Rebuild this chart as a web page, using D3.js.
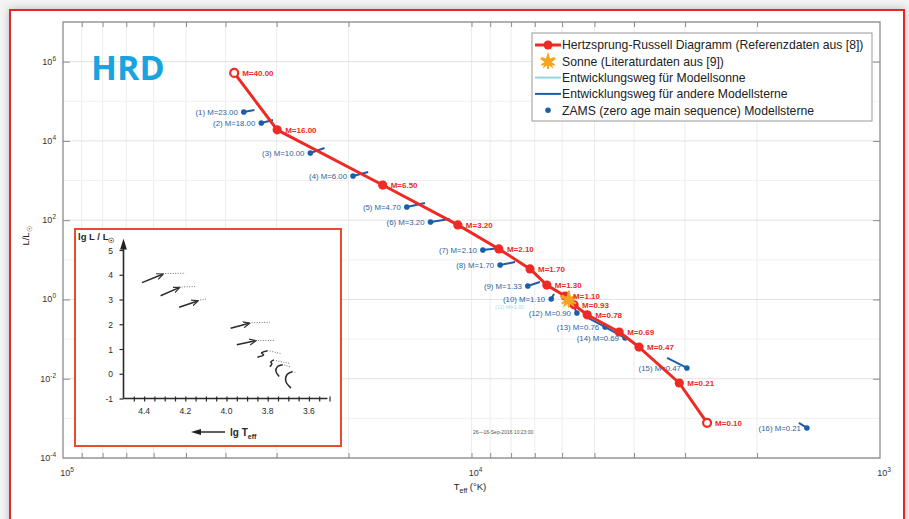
<!DOCTYPE html>
<html>
<head>
<meta charset="utf-8">
<style>
  body { margin: 0; background: #f4f4f4; }
  svg { display: block; font-family: "Liberation Sans", Arial, sans-serif; }
</style>
</head>
<body>
<svg id="hrd" width="909" height="519"></svg>
<script src="https://cdn.jsdelivr.net/npm/d3@7"></script>
<script>
// Referenzdaten (rote Linie)
const refMass = ["40.00","16.00","6.50","3.20","2.10","1.70","1.30","1.10","0.93","0.78","0.69","0.47","0.21","0.10"];
const refTeff = [38100, 29900, 16500, 10800, 8570, 7190, 6540, 5900, 5610, 5210, 4350, 3890, 3100, 2650];
const refLum  = [5.2e5, 1.9e4, 770, 76, 18.8, 5.9, 2.3, 1.22, 0.73, 0.41, 0.151, 0.063, 0.0078, 7.7e-4];

// Modellsterne (ZAMS-Punkt und Ende des Entwicklungswegs)
const modelNo   = [1,2,3,4,5,6,7,8,9,10,11,12,13,14,15,16];
const modelMass = ["23.00","18.00","10.00","6.00","4.70","3.20","2.10","1.70","1.33","1.10","1.00","0.90","0.76","0.69","0.47","0.21"];
const zamsTeff  = [36100, 32700, 24800, 19500, 14400, 12600, 9380, 8510, 7280, 6380, 5600, 5520, 4710, 4210, 2970, 1510];
const zamsLum   = [53700, 28300, 4950, 1300, 215, 90, 17.7, 7.4, 2.19, 1.03, 0.70, 0.456, 0.202, 0.107, 0.0187, 5.73e-4];
const endTeff   = [34000, 30600, 22900, 17900, 13000, 11300, 8510, 7820, 6800, 6280, 5778, 5590, 5190, 4660, 3320, 1580];
const endLum    = [60300, 33700, 6620, 1640, 272, 107, 19.9, 8.8, 2.76, 1.37, 1.0, 0.61, 0.341, 0.19, 0.0334, 7.66e-4];
const modelSunNo = 11;

// Sonne
const sunTeff = 5778, sunLum = 1;

// Achsen
const xMajor = [1e5, 1e4, 1e3];
const xMinor = [2e3,3e3,4e3,5e3,6e3,7e3,8e3,9e3,2e4,3e4,4e4,5e4,6e4,7e4,8e4,9e4];
const yDecades = [-4,-3,-2,-1,0,1,2,3,4,5,6,7];
const yLabelExp = [-4,-2,0,2,4,6];

// Inset (eingescannte Abbildung): lg T, lg L
const insetXTicks = [4.4, 4.2, 4.0, 3.8, 3.6];
const insetYTicks = [-1, 0, 1, 2, 3, 4, 5];
const insetSolid = [
  [[4.41,3.68],[4.31,4.02]],
  [[4.32,3.15],[4.23,3.48]],
  [[4.23,2.69],[4.14,2.94]],
  [[3.98,1.84],[3.89,2.04]],
  [[3.95,1.17],[3.86,1.33]],
  [[3.85,0.67],[3.82,0.76],[3.83,0.84],[3.80,0.93]],
  [[3.79,0.28],[3.78,0.40],[3.785,0.48],[3.77,0.56]],
  [[3.744,-0.11],[3.76,0.09],[3.752,0.29],[3.727,0.36]],
  [[3.687,-0.58],[3.712,-0.31],[3.707,-0.04],[3.679,0.09]]
];
const insetDotted = [
  [[4.31,4.05],[4.20,4.06]],
  [[4.23,3.50],[4.15,3.53]],
  [[4.14,2.96],[4.10,3.02]],
  [[3.89,2.06],[3.79,2.08]],
  [[3.86,1.35],[3.77,1.34]],
  [[3.79,0.92],[3.736,0.81]],
  [[3.76,0.53],[3.69,0.41]],
  [[3.72,0.36],[3.69,0.28]],
  [[3.67,0.08],[3.665,0.02]]
];

const legendItems = [
  "Hertzsprung-Russell Diagramm (Referenzdaten aus [8])",
  "Sonne (Literaturdaten aus [9])",
  "Entwicklungsweg für Modellsonne",
  "Entwicklungsweg für andere Modellsterne",
  "ZAMS (zero age main sequence) Modellsterne"
];

const RED = "#ee2a24", BLUE = "#1d5ea8", CYAN = "#8fd6e6", ORANGE = "#f7a51f";

const svg = d3.select("#hrd");

// Rahmen mit Schatten
const defs = svg.append("defs");
const f = defs.append("filter").attr("id", "sh").attr("x", -0.05).attr("y", -0.05).attr("width", 1.1).attr("height", 1.1);
f.append("feDropShadow").attr("dx", 0).attr("dy", 0).attr("stdDeviation", 4).attr("flood-color", "#000").attr("flood-opacity", 0.25);
defs.append("marker").attr("id", "arr").attr("viewBox", "0 0 10 10").attr("refX", 8).attr("refY", 5)
  .attr("markerWidth", 5).attr("markerHeight", 5).attr("orient", "auto")
  .append("path").attr("d", "M0,1 L9,5 L0,9").attr("fill", "none").attr("stroke", "#333").attr("stroke-width", 1.6);
defs.append("marker").attr("id", "arr2").attr("viewBox", "0 0 10 10").attr("refX", 5).attr("refY", 5)
  .attr("markerWidth", 7).attr("markerHeight", 7).attr("orient", "auto")
  .append("path").attr("d", "M0,2 L10,5 L0,8 Z").attr("fill", "#222");

svg.append("rect").attr("x", 10).attr("y", 10).attr("width", 894).attr("height", 530)
  .attr("fill", "#fff").attr("stroke", "#e3262b").attr("stroke-width", 2).attr("filter", "url(#sh)");

const x = d3.scaleLog().domain([1e5, 1e3]).range([63, 880]);
const y = d3.scaleLog().domain([1e-4, 1e7]).range([458, 22]);

// Gitter
const grid = svg.append("g");
grid.selectAll(".gx").data(xMinor.concat([1e4])).enter().append("line")
  .attr("x1", d => x(d)).attr("x2", d => x(d)).attr("y1", 22).attr("y2", 458)
  .attr("stroke", "#ececec").attr("stroke-width", 1);
grid.selectAll(".gy").data(yDecades).enter().append("line")
  .attr("x1", 63).attr("x2", 880).attr("y1", d => y(Math.pow(10, d))).attr("y2", d => y(Math.pow(10, d)))
  .attr("stroke", d => d % 2 === 0 ? "#e2e2e2" : "#f0f0f0").attr("stroke-width", 1);

// Achsenkasten und Ticks
svg.append("rect").attr("x", 63).attr("y", 22).attr("width", 817).attr("height", 436)
  .attr("fill", "none").attr("stroke", "#8c8c8c").attr("stroke-width", 1.3);

const tickVals = xMinor.concat([1e4]);
function styleAxis(g) {
  g.select(".domain").remove();
  g.selectAll("line").attr("stroke", "#8c8c8c");
}
svg.append("g").attr("transform", "translate(0,458)")
  .call(d3.axisBottom(x).tickValues(tickVals).tickSize(-5).tickFormat("")).call(styleAxis);
svg.append("g").attr("transform", "translate(0,22)")
  .call(d3.axisTop(x).tickValues(tickVals).tickSize(-5).tickFormat("")).call(styleAxis);
const yTickVals = yLabelExp.map(e => Math.pow(10, e)).filter(v => v > 1e-4);
svg.append("g").attr("transform", "translate(63,0)")
  .call(d3.axisLeft(y).tickValues(yTickVals).tickSize(-7).tickFormat("")).call(styleAxis);
svg.append("g").attr("transform", "translate(880,0)")
  .call(d3.axisRight(y).tickValues(yTickVals).tickSize(-7).tickFormat("")).call(styleAxis);

// Tick-Beschriftungen mit Exponent
function pow10(sel, e) {
  sel.append("tspan").text("10");
  sel.append("tspan").attr("dy", -4).attr("font-size", 6.5).text(e);
}
yLabelExp.forEach(e => {
  svg.append("text").attr("x", 56).attr("y", y(Math.pow(10, e)) + 3).attr("text-anchor", "end")
    .attr("font-size", 9).attr("fill", "#333").call(pow10, e);
});
xMajor.forEach(v => {
  svg.append("text").attr("x", x(v) + 4).attr("y", 476).attr("text-anchor", "middle")
    .attr("font-size", 9).attr("fill", "#333").call(pow10, Math.round(Math.log10(v)));
});

// Achsentitel
const xl = svg.append("text").attr("x", 470).attr("y", 490).attr("text-anchor", "middle")
  .attr("font-size", 9.5).attr("fill", "#222");
xl.append("tspan").text("T");
xl.append("tspan").attr("dy", 3).attr("font-size", 7).text("eff");
xl.append("tspan").attr("dy", -3).text(" (°K)");
const yl = svg.append("text").attr("transform", "translate(29,236) rotate(-90)").attr("text-anchor", "middle")
  .attr("font-size", 9.5).attr("fill", "#222");
yl.append("tspan").text("L/L");
yl.append("tspan").attr("dy", 3).attr("font-size", 7).text("☉");

// HRD Titel
svg.append("text").attr("x", 91).attr("y", 80).attr("font-family", "Open Sans, Lato, sans-serif")
  .attr("font-weight", "bold").attr("font-size", 34).attr("fill", "#1ba3df").text("HRD");

// Modellsterne
const models = modelNo.map((n, i) => ({
  n: n, m: modelMass[i],
  z: { T: zamsTeff[i], L: zamsLum[i] },
  e: { T: endTeff[i], L: endLum[i] }
}));
const mg = svg.append("g");
mg.selectAll(".trk").data(models).enter().append("line")
  .attr("x1", d => x(d.z.T)).attr("y1", d => y(d.z.L))
  .attr("x2", d => x(d.e.T)).attr("y2", d => y(d.e.L))
  .attr("stroke", d => d.n === modelSunNo ? CYAN : BLUE).attr("stroke-width", 2);
mg.selectAll(".zams").data(models).enter().append("circle")
  .attr("cx", d => x(d.z.T)).attr("cy", d => y(d.z.L)).attr("r", 2.8)
  .attr("fill", d => d.n === modelSunNo ? CYAN : BLUE);
mg.selectAll(".ml").data(models).enter().append("text")
  .attr("x", d => x(d.z.T) - (d.n === modelSunNo ? 50 : 6))
  .attr("y", d => y(d.z.L) + 3)
  .attr("text-anchor", "end").attr("font-size", d => d.n === modelSunNo ? 5.5 : 7.8)
  .attr("fill", d => d.n === modelSunNo ? "#a9dbe8" : "#2d5f9e")
  .text(d => "(" + d.n + ") M=" + d.m);

// Referenzlinie
const ref = refMass.map((m, i) => ({ m: m, T: refTeff[i], L: refLum[i] }));
const line = d3.line().x(d => x(d.T)).y(d => y(d.L));
svg.append("path").datum(ref).attr("d", line).attr("fill", "none")
  .attr("stroke", RED).attr("stroke-width", 3).attr("stroke-linejoin", "round");
svg.selectAll(".rm").data(ref).enter().append("circle")
  .attr("cx", d => x(d.T)).attr("cy", d => y(d.L))
  .attr("r", (d, i) => (i === 0 || i === ref.length - 1) ? 4 : 4.6)
  .attr("fill", (d, i) => (i === 0 || i === ref.length - 1) ? "#fff" : RED)
  .attr("stroke", RED).attr("stroke-width", (d, i) => (i === 0 || i === ref.length - 1) ? 2.2 : 0);

// Sonne
function sunSymbol(g, cx, cy, s) {
  g.append("path").attr("transform", "translate(" + cx + "," + cy + ")")
    .attr("d", d3.symbol(d3.symbolAsterisk, s * 1.8)()).attr("stroke", ORANGE).attr("stroke-width", 2);
  g.append("path").attr("transform", "translate(" + cx + "," + cy + ")")
    .attr("d", d3.symbol(d3.symbolStar, s)()).attr("fill", ORANGE);
}
sunSymbol(svg, x(sunTeff), y(sunLum), 110);

svg.selectAll(".rl").data(ref).enter().append("text")
  .attr("x", d => x(d.T) + 8).attr("y", d => y(d.L) + 3)
  .attr("font-size", 8).attr("font-weight", "bold").attr("fill", RED)
  .text(d => "M=" + d.m);

// Datumsstempel
svg.append("text").attr("x", 473).attr("y", 434).attr("font-size", 5).attr("fill", "#555")
  .text("26—16-Sep-2016 10:23:00");

// Inset
svg.append("rect").attr("x", 75).attr("y", 229).attr("width", 266).attr("height", 217)
  .attr("fill", "#fff").attr("stroke", "#ec4a2c").attr("stroke-width", 2);
const ix = d3.scaleLinear().domain([4.5, 3.5]).range([123.5, 329.5]);
const iy = d3.scaleLinear().domain([-1, 5]).range([398.5, 250]);
const ink = "#2a2a2a";
svg.append("line").attr("x1", ix(4.5)).attr("x2", ix(4.5)).attr("y1", iy(-1)).attr("y2", 244)
  .attr("stroke", ink).attr("stroke-width", 1.6).attr("marker-end", "url(#arr2)");
svg.append("line").attr("x1", ix(4.5)).attr("x2", ix(3.51)).attr("y1", iy(-1)).attr("y2", iy(-1))
  .attr("stroke", ink).attr("stroke-width", 1.6);
svg.append("g").attr("transform", "translate(0," + iy(-1) + ")")
  .call(d3.axisBottom(ix).tickValues(d3.range(4.45, 3.5, -0.05)).tickSize(3).tickFormat(""))
  .call(g => { g.select(".domain").remove(); g.selectAll("line").attr("stroke", ink).attr("stroke-width", 1.2).attr("y1", -2); });
svg.append("g").attr("transform", "translate(" + ix(4.5) + ",0)")
  .call(d3.axisLeft(iy).tickValues(insetYTicks).tickSize(4).tickFormat(""))
  .call(g => { g.select(".domain").remove(); g.selectAll("line").attr("stroke", ink).attr("stroke-width", 1.2); });
insetYTicks.forEach(v => {
  svg.append("text").attr("x", 113).attr("y", iy(v) + 3.5).attr("text-anchor", "end")
    .attr("font-size", 8.5).attr("fill", ink).text(v);
});
insetXTicks.forEach(v => {
  svg.append("text").attr("x", ix(v)).attr("y", 414).attr("text-anchor", "middle")
    .attr("font-size", 8.5).attr("fill", ink).text(v.toFixed(1));
});
const il = svg.append("text").attr("x", 78).attr("y", 240).attr("font-size", 9.5).attr("font-weight", "bold").attr("fill", ink);
il.append("tspan").text("lg L / L");
il.append("tspan").attr("dy", 2.5).attr("font-size", 6.5).text("☉");
svg.append("line").attr("x1", 225).attr("x2", 196).attr("y1", 432).attr("y2", 432)
  .attr("stroke", ink).attr("stroke-width", 1.5).attr("marker-end", "url(#arr2)");
const it = svg.append("text").attr("x", 230).attr("y", 436).attr("font-size", 10).attr("font-weight", "bold").attr("fill", ink);
it.append("tspan").text("lg T");
it.append("tspan").attr("dy", 3).attr("font-size", 7).text("eff");

const iline = d3.line().x(d => ix(d[0])).y(d => iy(d[1])).curve(d3.curveCatmullRom);
svg.selectAll(".is").data(insetSolid).enter().append("path")
  .attr("d", iline).attr("fill", "none").attr("stroke", ink).attr("stroke-width", 1.5)
  .attr("marker-end", (d, i) => i < 5 ? "url(#arr)" : null);
svg.selectAll(".id").data(insetDotted).enter().append("path")
  .attr("d", iline).attr("fill", "none").attr("stroke", "#666").attr("stroke-width", 0.9)
  .attr("stroke-dasharray", "1,1.5");

// Legende
const lg = svg.append("g");
lg.append("rect").attr("x", 532).attr("y", 33).attr("width", 340).attr("height", 88)
  .attr("fill", "#fff").attr("stroke", "#9a9a9a").attr("stroke-width", 1);
const rowY = i => 45 + i * 16.3;
legendItems.forEach((t, i) => {
  lg.append("text").attr("x", 562).attr("y", rowY(i) + 4.3).attr("font-size", 12.2).attr("fill", "#222").text(t);
});
lg.append("line").attr("x1", 535).attr("x2", 561).attr("y1", rowY(0)).attr("y2", rowY(0)).attr("stroke", RED).attr("stroke-width", 3);
lg.append("circle").attr("cx", 548).attr("cy", rowY(0)).attr("r", 4.5).attr("fill", RED);
sunSymbol(lg, 548, rowY(1), 90);
lg.append("line").attr("x1", 535).attr("x2", 561).attr("y1", rowY(2)).attr("y2", rowY(2)).attr("stroke", CYAN).attr("stroke-width", 2);
lg.append("line").attr("x1", 535).attr("x2", 561).attr("y1", rowY(3)).attr("y2", rowY(3)).attr("stroke", BLUE).attr("stroke-width", 2);
lg.append("circle").attr("cx", 548).attr("cy", rowY(4)).attr("r", 2.8).attr("fill", BLUE);
</script>
</body>
</html>
